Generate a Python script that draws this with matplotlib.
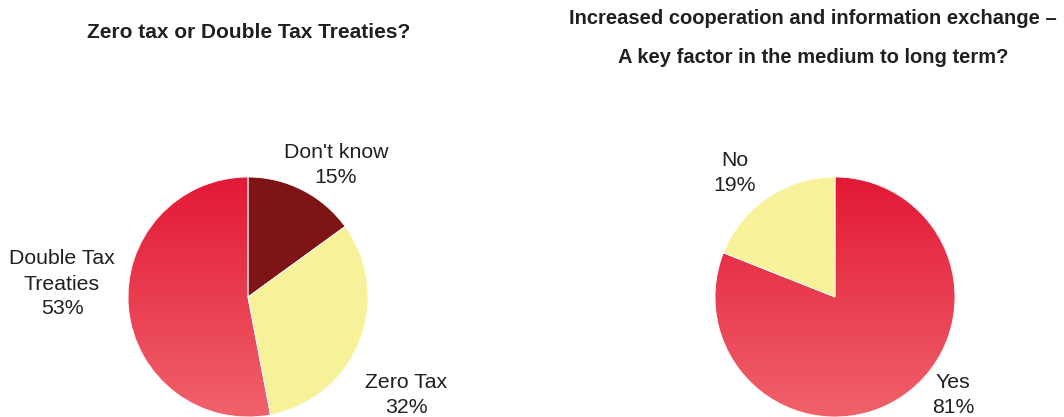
import numpy as np
import matplotlib
matplotlib.use("Agg")
import matplotlib.pyplot as plt
from matplotlib.colors import LinearSegmentedColormap

plt.rcParams['font.family'] = ['Liberation Sans', 'DejaVu Sans']

# Survey results
tax_labels = ["Don't know", "Zero Tax", "Double Tax\nTreaties"]
tax_values = [15, 32, 53]
coop_labels = ["Yes", "No"]
coop_values = [81, 19]

title_left = "Zero tax or Double Tax Treaties?"
title_right = "Increased cooperation and information exchange \u2013\nA key factor in the medium to long term?"

DARK_RED = "#7F1416"
YELLOW = "#F7F29A"
red_grad = LinearSegmentedColormap.from_list("redgrad", ["#F0626A", "#E31837"])

W, H = 1064, 417
fig = plt.figure(figsize=(W / 100, H / 100), dpi=100)
R = 120  # pie radius in pixels


def pie_axes(cx, cy):
    # cx, cy in pixels from top-left
    return fig.add_axes([(cx - R) / W, (H - cy - R) / H, 2 * R / W, 2 * R / H])


def draw_pie(ax, values, fills, gradient_idx):
    wedges, _ = ax.pie(values, startangle=90, counterclock=False, radius=1,
                       colors=[f if f else "none" for f in fills],
                       wedgeprops=dict(linewidth=0.6, edgecolor="white"))
    grad = np.linspace(0, 1, 256).reshape(-1, 1)
    for i in gradient_idx:
        im = ax.imshow(grad, cmap=red_grad, origin="lower", extent=(-1, 1, -1, 1),
                       aspect="auto", zorder=0.5)
        im.set_clip_path(wedges[i])
    ax.set_xlim(-1, 1)
    ax.set_ylim(-1, 1)
    ax.set_aspect("equal")
    ax.axis("off")
    return wedges


ax1 = pie_axes(248, 297)
draw_pie(ax1, tax_values, [DARK_RED, YELLOW, None], [2])
ax2 = pie_axes(835, 297)
draw_pie(ax2, coop_values, [None, YELLOW], [0])


def ftext(x, y, s, **kw):
    fig.text(x / W, 1 - y / H, s, ha="center", va="center", color="#231F20", **kw)


lab_kw = dict(fontsize=15.3, linespacing=1.4)
ftext(336, 165, f"{tax_labels[0]}\n{tax_values[0]}%", **lab_kw)
ftext(406, 395, f"{tax_labels[1]}\n{tax_values[1]}%", **lab_kw)
ftext(62, 284, f"{tax_labels[2]}\n{tax_values[2]}%", **lab_kw)
ftext(953, 395, f"{coop_labels[0]}\n{coop_values[0]}%", **lab_kw)
ftext(735, 173, f"{coop_labels[1]}\n{coop_values[1]}%", **lab_kw)

ftext(249, 33, title_left, fontsize=15, fontweight="bold")
ftext(813, 38, title_right, fontsize=14.5, fontweight="bold", linespacing=2.38)

fig.savefig("out.png", dpi=100, facecolor="white")
